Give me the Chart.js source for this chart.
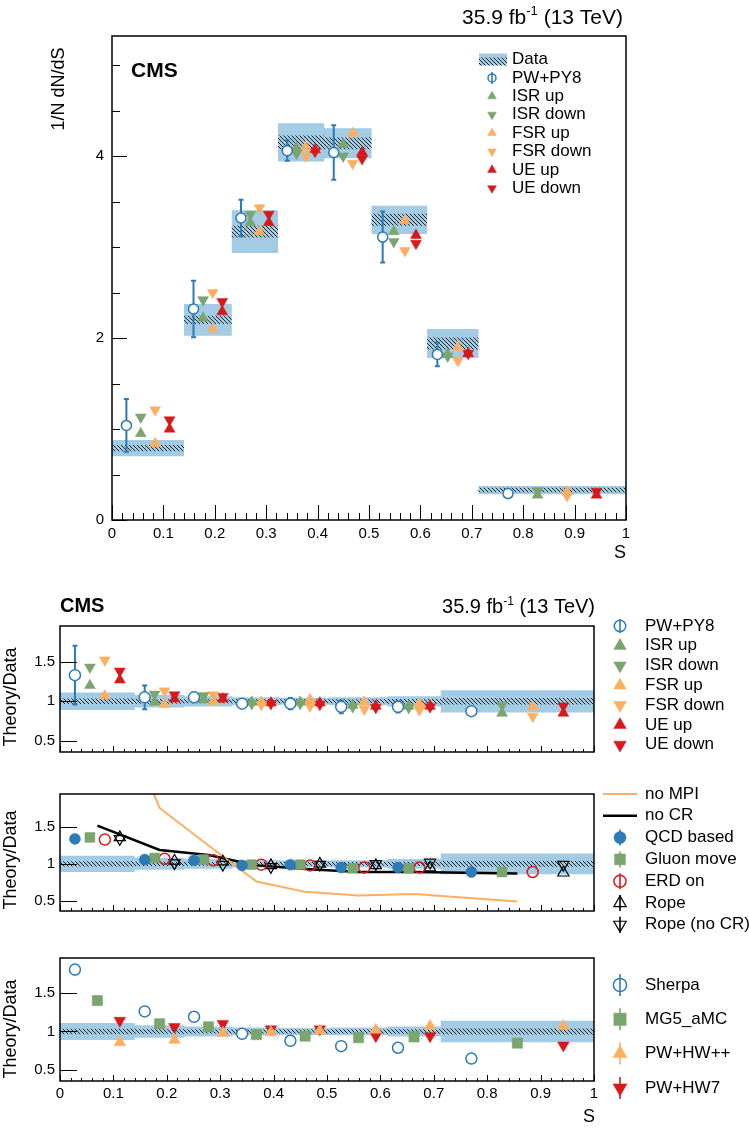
<!DOCTYPE html>
<html>
<head>
<meta charset="utf-8">
<title>Event shape S</title>
<script src="https://cdn.jsdelivr.net/npm/chart.js@4.4.1/dist/chart.umd.min.js"></script>
<style>
  html, body { margin: 0; padding: 0; background: #fff; }
  #page { position: relative; width: 749px; height: 1129px; overflow: hidden; }
  #page canvas { position: absolute; left: 0; }
</style>
</head>
<body>
<div id="page">
  <canvas id="top" width="749" height="575" style="top:0;width:749px;height:575px"></canvas>
  <canvas id="r1" width="749" height="195" style="top:575px;width:749px;height:195px"></canvas>
  <canvas id="r2" width="749" height="172" style="top:770px;width:749px;height:172px"></canvas>
  <canvas id="r3" width="749" height="187" style="top:942px;width:749px;height:187px"></canvas>
</div>
<script>
'use strict';

// bin edges in S
const binEdges = [0, 0.14, 0.233, 0.323, 0.413, 0.505, 0.613, 0.713, 1.0];

// upper panel: 1/N dN/dS
const dataVal     = [0.79, 2.20, 3.17, 4.15, 4.14, 3.30, 1.94, 0.33];
const dataTotUnc  = [0.09, 0.175, 0.235, 0.21, 0.165, 0.155, 0.16, 0.045];
const dataStatUnc = [0.035, 0.045, 0.065, 0.075, 0.065, 0.065, 0.065, 0.025];

const pwpy8    = [1.04, 2.32, 3.32, 4.06, 4.04, 3.11, 1.82, 0.29];
const pwpy8Err = [0.29, 0.31, 0.20, 0.11, 0.30, 0.28, 0.13, 0.02];
const isrUp    = [0.95, 2.22, 3.27, 4.09, 4.13, 3.17, 1.82, 0.275];
const isrDown  = [1.13, 2.42, 3.36, 4.03, 4.00, 3.06, 1.80, 0.32];
const fsrUp    = [0.84, 2.10, 3.17, 4.10, 4.25, 3.29, 1.90, 0.31];
const fsrDown  = [1.21, 2.50, 3.43, 4.00, 3.92, 2.96, 1.75, 0.265];
const ueUp     = [1.00, 2.29, 3.27, 4.07, 4.04, 3.13, 1.83, 0.275];
const ueDown   = [1.10, 2.40, 3.36, 4.05, 3.97, 3.04, 1.83, 0.315];

// ratio panels: data uncertainty relative to 1
const ratioTotUnc  = [0.11, 0.08, 0.065, 0.05, 0.045, 0.05, 0.065, 0.14];
const ratioStatUnc = [0.035, 0.03, 0.025, 0.025, 0.025, 0.025, 0.03, 0.04];

// ratio panel 1: PYTHIA variations
const rPwpy8    = [1.33, 1.05, 1.05, 0.97, 0.97, 0.93, 0.93, 0.875];
const rPwpy8Err = [0.37, 0.15, 0.06, 0.03, 0.07, 0.08, 0.07, 0.05];
const rIsrUp    = [1.20, 0.99, 1.02, 0.99, 0.99, 0.95, 0.94, 0.85];
const rIsrDown  = [1.43, 1.09, 1.07, 0.97, 0.97, 0.93, 0.92, 0.95];
const rFsrUp    = [1.07, 0.96, 1.00, 0.99, 1.02, 0.99, 0.97, 0.93];
const rFsrDown  = [1.52, 1.13, 1.08, 0.96, 0.94, 0.90, 0.89, 0.81];
const rUeUp     = [1.27, 1.03, 1.03, 0.98, 0.98, 0.94, 0.94, 0.85];
const rUeDown   = [1.38, 1.08, 1.06, 0.97, 0.96, 0.92, 0.93, 0.94];

// ratio panel 2: MPI / colour reconnection models
const rNoMpi    = [3.80, 1.76, 1.25, 0.76, 0.62, 0.57, 0.59, 0.49];
const rNoCr     = [1.52, 1.19, 1.12, 0.98, 0.93, 0.89, 0.89, 0.87];
const rQcd      = [1.34, 1.06, 1.05, 0.98, 0.99, 0.95, 0.95, 0.89];
const rGluon    = [1.36, 1.08, 1.06, 0.99, 0.99, 0.94, 0.94, 0.89];
const rErd      = [1.33, 1.07, 1.05, 0.99, 0.98, 0.95, 0.95, 0.89];
const rRope     = [1.36, 1.04, 1.03, 0.98, 1.00, 0.98, 0.95, 0.88];
const rRopeNoCr = [1.34, 1.01, 0.99, 0.96, 0.99, 1.00, 1.02, 0.99];

// ratio panel 3: other generators
const rSherpa    = [1.80, 1.26, 1.19, 0.97, 0.88, 0.81, 0.79, 0.65];
const rSherpaErr = [0.06, 0.02, 0.02, 0.01, 0.01, 0.01, 0.01, 0.02];
const rMg5       = [1.40, 1.10, 1.06, 0.96, 0.94, 0.92, 0.93, 0.85];
const rHwpp      = [0.86, 0.89, 0.98, 0.99, 1.01, 1.02, 1.07, 1.07];
const rHw7       = [1.14, 1.06, 1.10, 1.03, 1.03, 0.94, 0.94, 0.82];

const FONT = '"Liberation Sans", Arial, Helvetica, sans-serif';
Chart.defaults.font.family = FONT;
Chart.defaults.color = '#000';

const C = {
  blue: '#2c7bb6', green: '#7aa56f', orange: '#fdae61', red: '#d7191c',
  band: '#a3cbe3', none: 'rgba(0,0,0,0)'
};

function binX(frac) {
  return binEdges.slice(0, -1).map((lo, i) => lo + frac * (binEdges[i + 1] - lo));
}
function pts(xs, ys) { return ys.map((y, i) => ({ x: xs[i], y: y })); }
function stepPts(vals) {
  return binEdges.map((e, i) => ({ x: e, y: vals[Math.min(i, vals.length - 1)] }));
}

function hatchPattern(canvasId) {
  const tile = document.createElement('canvas');
  tile.width = 4; tile.height = 4;
  const g = tile.getContext('2d');
  g.strokeStyle = '#222'; g.lineWidth = 1;
  g.beginPath();
  g.moveTo(0, 0); g.lineTo(4, 4);
  g.moveTo(-1, 3); g.lineTo(1, 5);
  g.moveTo(3, -1); g.lineTo(5, 1);
  g.stroke();
  return document.getElementById(canvasId).getContext('2d').createPattern(tile, 'repeat');
}

// two stepped lines, the second filled up to the first
function band(center, unc, fillStyle, order) {
  const hi = center.map((c, i) => c + unc[i]);
  const lo = center.map((c, i) => c - unc[i]);
  const base = { type: 'line', stepped: true, borderWidth: 0, borderColor: C.none,
                 pointRadius: 0, order: order };
  return [
    Object.assign({}, base, { data: stepPts(hi), fill: false }),
    Object.assign({}, base, { data: stepPts(lo), fill: '-1', backgroundColor: fillStyle })
  ];
}

function markers(xs, ys, style, extra) {
  return Object.assign({
    type: 'scatter', data: pts(xs, ys), showLine: false, order: 1,
    pointStyle: style.shape === 'down' || style.shape === 'up' ? 'triangle' : style.shape,
    pointRotation: style.shape === 'down' ? 180 : 0,
    pointRadius: style.r,
    pointBackgroundColor: style.fill,
    pointBorderColor: style.stroke,
    pointBorderWidth: style.lw
  }, extra || {});
}

function curve(xs, ys, color, width) {
  return { type: 'line', data: pts(xs, ys), showLine: true, borderColor: color,
           borderWidth: width, pointRadius: 0, fill: false, tension: 0, order: 5 };
}

// marker looks, shared by plot and legend
const M = {
  pw:      { shape: 'circle', r: 5,   fill: '#fff', stroke: C.blue, lw: 1.5 },
  isrUp:   { shape: 'up',     r: 6.3, fill: C.green, stroke: C.green, lw: 0.5 },
  isrDown: { shape: 'down',   r: 6.3, fill: C.green, stroke: C.green, lw: 0.5 },
  fsrUp:   { shape: 'up',     r: 6.3, fill: C.orange, stroke: C.orange, lw: 0.5 },
  fsrDown: { shape: 'down',   r: 6.3, fill: C.orange, stroke: C.orange, lw: 0.5 },
  ueUp:    { shape: 'up',     r: 6.3, fill: C.red, stroke: C.red, lw: 0.5 },
  ueDown:  { shape: 'down',   r: 6.3, fill: C.red, stroke: C.red, lw: 0.5 },
  qcd:     { shape: 'circle', r: 5.5, fill: C.blue, stroke: C.blue, lw: 0.5 },
  gluon:   { shape: 'rect',   r: 7,   fill: C.green, stroke: C.green, lw: 0.5 },
  erd:     { shape: 'circle', r: 5.5, fill: C.none, stroke: C.red, lw: 1.5 },
  rope:    { shape: 'up',     r: 6.5, fill: C.none, stroke: '#000', lw: 1.2 },
  ropeNo:  { shape: 'down',   r: 6.5, fill: C.none, stroke: '#000', lw: 1.2 },
  sherpa:  { shape: 'circle', r: 5.5, fill: '#fff', stroke: C.blue, lw: 1.5 },
  mg5:     { shape: 'rect',   r: 7.3, fill: C.green, stroke: C.green, lw: 0.5 },
  hwpp:    { shape: 'up',     r: 6.7, fill: C.orange, stroke: C.orange, lw: 0.5 },
  hw7:     { shape: 'down',   r: 6.7, fill: C.red, stroke: C.red, lw: 0.5 }
};

// legend / free drawing of a marker, same geometry as Chart.js point styles
function drawMarker(ctx, m, x, y, scale, bar) {
  const r = m.r * (scale || 1);
  const open = m.fill === C.none || m.fill === '#fff';
  ctx.save();
  ctx.strokeStyle = m.stroke; ctx.fillStyle = m.fill;
  const drawBar = () => {
    ctx.lineWidth = 1.6; ctx.beginPath();
    ctx.moveTo(x, y - bar); ctx.lineTo(x, y + bar); ctx.stroke();
  };
  if (bar && !open) drawBar();
  ctx.beginPath();
  if (m.shape === 'circle') {
    ctx.arc(x, y, r, 0, 2 * Math.PI);
  } else if (m.shape === 'rect') {
    const s = r * Math.SQRT1_2;
    ctx.rect(x - s, y - s, 2 * s, 2 * s);
  } else {
    const rot = m.shape === 'down' ? Math.PI : 0;
    for (let k = 0; k < 3; k++) {
      const a = rot + k * 2 * Math.PI / 3;
      const px = x + Math.sin(a) * r, py = y - Math.cos(a) * r;
      if (k === 0) ctx.moveTo(px, py); else ctx.lineTo(px, py);
    }
    ctx.closePath();
  }
  ctx.fill();
  ctx.lineWidth = m.lw;
  ctx.stroke();
  if (bar && open) drawBar();
  ctx.restore();
}

function drawLumi(ctx, xr, y, size) {
  const f = s => s + 'px ' + FONT;
  ctx.save();
  ctx.fillStyle = '#000'; ctx.textAlign = 'left'; ctx.textBaseline = 'alphabetic';
  ctx.font = f(size);
  const w1 = ctx.measureText('35.9 fb').width;
  const w3 = ctx.measureText(' (13 TeV)').width;
  const ss = Math.round(size * 0.6);
  ctx.font = f(ss);
  const w2 = ctx.measureText('-1').width;
  let x = xr - w1 - w2 - w3;
  ctx.font = f(size); ctx.fillText('35.9 fb', x, y); x += w1;
  ctx.font = f(ss); ctx.fillText('-1', x, y - size * 0.42); x += w2;
  ctx.font = f(size); ctx.fillText(' (13 TeV)', x, y);
  ctx.restore();
}

function drawText(ctx, t) {
  ctx.save();
  ctx.fillStyle = '#000';
  ctx.font = (t.bold ? 'bold ' : '') + t.size + 'px ' + FONT;
  ctx.textAlign = t.align || 'left';
  ctx.textBaseline = 'middle';
  ctx.translate(t.x, t.y);
  if (t.rot) ctx.rotate(t.rot);
  ctx.fillText(t.text, 0, 0);
  ctx.restore();
}

const halfTicks = [0, 0.5, 1, 1.5, 2, 2.5, 3, 3.5, 4, 4.5, 5];

// per-canvas decoration: frame ticks, texts, legends
const decor = {
  top: {
    xMaj: 15, xMin: 7,
    yTicks: halfTicks.map(v => [v, v % 2 === 0 ? 15 : 8]),
    lumi: { x: 623, y: 24, size: 21 },
    texts: [
      { text: 'CMS', x: 131, y: 71, size: 21, bold: true },
      { text: '1/N dN/dS', x: 59, y: 89, size: 18, rot: -Math.PI / 2, align: 'center' },
      { text: 'S', x: 626, y: 553, size: 18, align: 'right' }
    ],
    legend: {
      mx: 492, tx: 512, y0: 59.5, dy: 18.4, size: 17, scale: 0.8,
      items: [
        { label: 'Data', box: true },
        { label: 'PW+PY8', m: M.pw, bar: 6 },
        { label: 'ISR up', m: M.isrUp },
        { label: 'ISR down', m: M.isrDown },
        { label: 'FSR up', m: M.fsrUp },
        { label: 'FSR down', m: M.fsrDown },
        { label: 'UE up', m: M.ueUp },
        { label: 'UE down', m: M.ueDown }
      ]
    }
  },
  r1: {
    xMaj: 6, xMin: 3,
    yTicks: [[0.5, 17], [1, 17], [1.5, 17]],
    lumi: { x: 595, y: 38, size: 20 },
    texts: [
      { text: 'CMS', x: 60, y: 31, size: 20, bold: true },
      { text: 'Theory/Data', x: 11, y: 122, size: 18, rot: -Math.PI / 2, align: 'center' }
    ],
    legend: {
      mx: 620, tx: 645, y0: 51, dy: 19.8, size: 17, scale: 1.15,
      items: [
        { label: 'PW+PY8', m: M.pw, bar: 7 },
        { label: 'ISR up', m: M.isrUp },
        { label: 'ISR down', m: M.isrDown },
        { label: 'FSR up', m: M.fsrUp },
        { label: 'FSR down', m: M.fsrDown },
        { label: 'UE up', m: M.ueUp },
        { label: 'UE down', m: M.ueDown }
      ]
    }
  },
  r2: {
    xMaj: 6, xMin: 3,
    yTicks: [[0.5, 17], [1, 17], [1.5, 17]],
    texts: [
      { text: 'Theory/Data', x: 11, y: 90, size: 18, rot: -Math.PI / 2, align: 'center' }
    ],
    legend: {
      mx: 620, tx: 645, y0: 24, dy: 21.8, size: 17, scale: 1.1,
      items: [
        { label: 'no MPI', line: { color: C.orange, width: 2 } },
        { label: 'no CR', line: { color: '#000', width: 2.5 } },
        { label: 'QCD based', m: M.qcd, bar: 8 },
        { label: 'Gluon move', m: M.gluon, bar: 8 },
        { label: 'ERD on', m: M.erd, bar: 8 },
        { label: 'Rope', m: M.rope, bar: 8 },
        { label: 'Rope (no CR)', m: M.ropeNo, bar: 8 }
      ]
    }
  },
  r3: {
    xMaj: 6, xMin: 3,
    yTicks: [[0.5, 17], [1, 17], [1.5, 17]],
    texts: [
      { text: 'Theory/Data', x: 11, y: 87, size: 18, rot: -Math.PI / 2, align: 'center' },
      { text: 'S', x: 595, y: 175, size: 18, align: 'right' }
    ],
    legend: {
      mx: 620, tx: 645, y0: 43, dy: 34.3, size: 17, scale: 1.2,
      items: [
        { label: 'Sherpa', m: M.sherpa, bar: 11 },
        { label: 'MG5_aMC', m: M.mg5, bar: 11 },
        { label: 'PW+HW++', m: M.hwpp, bar: 11 },
        { label: 'PW+HW7', m: M.hw7, bar: 11 }
      ]
    }
  }
};

const panelDecor = {
  id: 'panelDecor',
  beforeDatasetDraw(chart, args) {
    const ds = chart.data.datasets[args.index];
    if (!ds.errs) return;
    const ctx = chart.ctx, ys = chart.scales.y;
    ctx.save();
    ctx.strokeStyle = ds.pointBorderColor; ctx.lineWidth = 2;
    args.meta.data.forEach((el, i) => {
      const v = ds.data[i].y, e = ds.errs[i];
      const y1 = ys.getPixelForValue(v - e), y2 = ys.getPixelForValue(v + e);
      ctx.beginPath();
      ctx.moveTo(el.x, y1); ctx.lineTo(el.x, y2);
      ctx.moveTo(el.x - 2.5, y1); ctx.lineTo(el.x + 2.5, y1);
      ctx.moveTo(el.x - 2.5, y2); ctx.lineTo(el.x + 2.5, y2);
      ctx.stroke();
    });
    ctx.restore();
  },
  afterDatasetsDraw(chart) {
    const d = decor[chart.canvas.id];
    const ctx = chart.ctx, a = chart.chartArea;
    const xs = chart.scales.x, ys = chart.scales.y;
    ctx.save();
    ctx.strokeStyle = '#000'; ctx.lineWidth = 1;
    ctx.beginPath();
    for (let i = 0; i <= 50; i++) {
      const px = Math.round(xs.getPixelForValue(i / 50)) + 0.5;
      const len = i % 5 === 0 ? d.xMaj : d.xMin;
      ctx.moveTo(px, a.bottom); ctx.lineTo(px, a.bottom - len);
    }
    d.yTicks.forEach(([v, len]) => {
      const py = Math.round(ys.getPixelForValue(v)) + 0.5;
      ctx.moveTo(a.left, py); ctx.lineTo(a.left + len, py);
    });
    ctx.stroke();
    ctx.lineWidth = 1.5;
    ctx.strokeRect(a.left, a.top, a.right - a.left, a.bottom - a.top);
    ctx.restore();
  },
  afterDraw(chart) {
    const d = decor[chart.canvas.id];
    const ctx = chart.ctx;
    if (d.lumi) drawLumi(ctx, d.lumi.x, d.lumi.y, d.lumi.size);
    d.texts.forEach(t => drawText(ctx, t));
    const L = d.legend;
    L.items.forEach((it, i) => {
      const y = L.y0 + i * L.dy;
      if (it.box) {
        ctx.save();
        ctx.fillStyle = C.band; ctx.fillRect(L.mx - 13, y - 6, 28, 12);
        ctx.fillStyle = hatchPattern(chart.canvas.id); ctx.fillRect(L.mx - 13, y - 2, 28, 8);
        ctx.restore();
      } else if (it.line) {
        ctx.save();
        ctx.strokeStyle = it.line.color; ctx.lineWidth = it.line.width;
        ctx.beginPath(); ctx.moveTo(L.mx - 17, y); ctx.lineTo(L.mx + 17, y); ctx.stroke();
        ctx.restore();
      } else {
        drawMarker(ctx, it.m, L.mx, y, L.scale, it.bar);
      }
      drawText(ctx, { text: it.label, x: L.tx, y: y, size: L.size });
    });
  }
};
Chart.register(panelDecor);

function makePanel(id, geo, yRange, datasets) {
  const cv = document.getElementById(id);
  return new Chart(cv, {
    type: 'scatter',
    data: { datasets: datasets },
    options: {
      responsive: false, animation: false, devicePixelRatio: 1, events: [],
      layout: { padding: { left: 0, top: geo.top, right: cv.width - geo.right,
                           bottom: cv.height - geo.bottom - geo.xh } },
      plugins: { legend: { display: false }, tooltip: { enabled: false } },
      scales: {
        x: {
          type: 'linear', min: 0, max: 1,
          grid: { display: false, drawTicks: false }, border: { display: false },
          ticks: { display: geo.xLabels, stepSize: 0.1, autoSkip: false, maxRotation: 0,
                   padding: geo.xPad, font: { size: 15 },
                   callback: v => String(Math.round(v * 10) / 10) },
          afterFit: s => { s.height = geo.xh; }
        },
        y: {
          type: 'linear', min: yRange[0], max: yRange[1],
          grid: { display: false, drawTicks: false }, border: { display: false },
          ticks: { stepSize: yRange[2], includeBounds: false, padding: geo.yPad,
                   font: { size: 15 }, callback: v => String(v) },
          afterFit: s => { s.width = geo.left; }
        }
      }
    }
  });
}

const xA = binX(0.2), xB = binX(0.4), xC = binX(0.6), xD = binX(0.8), xMid = binX(0.5);
const ones = dataVal.map(() => 1);

// upper distribution
makePanel('top',
  { left: 112, right: 626, top: 36, bottom: 520, xh: 30, xLabels: true, xPad: 5, yPad: 8 },
  [0, 5.32, 2],
  [].concat(
    band(dataVal, dataTotUnc, C.band, 100),
    band(dataVal, dataStatUnc, hatchPattern('top'), 90),
    [
      markers(xA, pwpy8, M.pw, { errs: pwpy8Err }),
      markers(xB, isrUp, M.isrUp), markers(xB, isrDown, M.isrDown),
      markers(xC, fsrUp, M.fsrUp), markers(xC, fsrDown, M.fsrDown),
      markers(xD, ueUp, M.ueUp), markers(xD, ueDown, M.ueDown)
    ]
  )
);

// ratio: PYTHIA variations
makePanel('r1',
  { left: 60, right: 594, top: 51, bottom: 177, xh: 10, xLabels: false, xPad: 4, yPad: 5 },
  [0.36, 1.95, 0.5],
  [].concat(
    band(ones, ratioTotUnc, C.band, 100),
    band(ones, ratioStatUnc, hatchPattern('r1'), 90),
    [
      markers(xA, rPwpy8, Object.assign({}, M.pw, { r: 5.5 }), { errs: rPwpy8Err }),
      markers(xB, rIsrUp, M.isrUp), markers(xB, rIsrDown, M.isrDown),
      markers(xC, rFsrUp, M.fsrUp), markers(xC, rFsrDown, M.fsrDown),
      markers(xD, rUeUp, M.ueUp), markers(xD, rUeDown, M.ueDown)
    ]
  )
);

// ratio: MPI and colour reconnection
makePanel('r2',
  { left: 60, right: 594, top: 24, bottom: 141, xh: 10, xLabels: false, xPad: 4, yPad: 5 },
  [0.36, 1.95, 0.5],
  [].concat(
    band(ones, ratioTotUnc, C.band, 100),
    band(ones, ratioStatUnc, hatchPattern('r2'), 90),
    [
      curve(xMid, rNoMpi, C.orange, 2),
      curve(xMid, rNoCr, '#000', 2.5),
      markers(xA, rQcd, M.qcd), markers(xB, rGluon, M.gluon),
      markers(xC, rErd, M.erd),
      markers(xD, rRope, M.rope), markers(xD, rRopeNoCr, M.ropeNo)
    ]
  )
);

// ratio: other generators
makePanel('r3',
  { left: 60, right: 594, top: 16, bottom: 139, xh: 30, xLabels: true, xPad: 4, yPad: 5 },
  [0.36, 1.95, 0.5],
  [].concat(
    band(ones, ratioTotUnc, C.band, 100),
    band(ones, ratioStatUnc, hatchPattern('r3'), 90),
    [
      markers(xA, rSherpa, M.sherpa, { errs: rSherpaErr }),
      markers(xMid, rMg5, M.mg5),
      markers(xD, rHwpp, M.hwpp), markers(xD, rHw7, M.hw7)
    ]
  )
);
</script>
</body>
</html>
